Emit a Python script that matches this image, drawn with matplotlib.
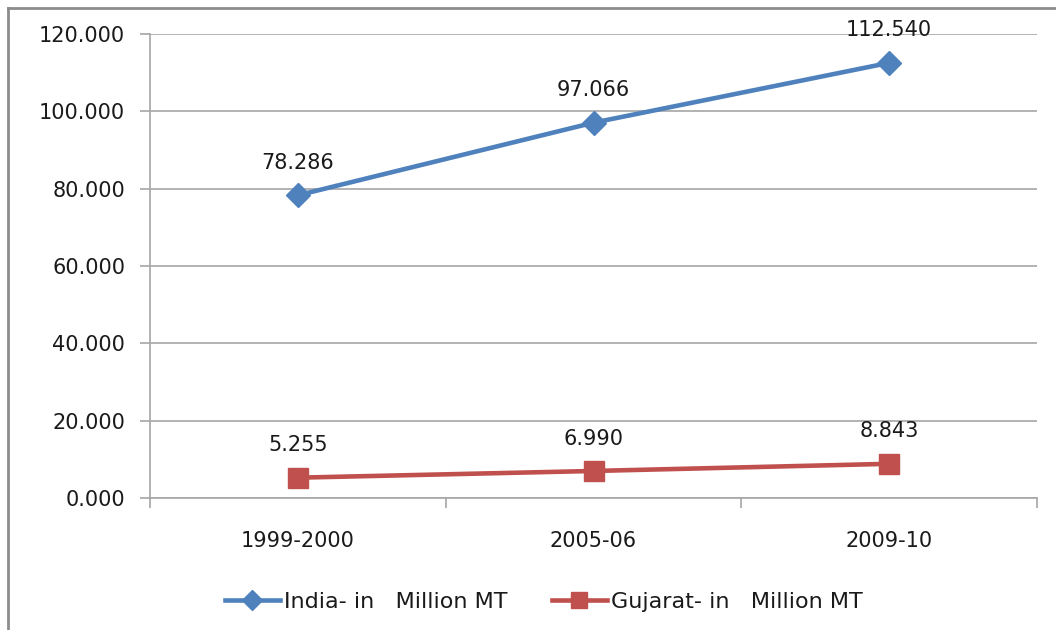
import matplotlib
matplotlib.use("Agg")
import matplotlib.pyplot as plt
from matplotlib.lines import Line2D

categories = ["1999-2000", "2005-06", "2009-10"]
india = [78.286, 97.066, 112.540]
gujarat = [5.255, 6.990, 8.843]
series_names = ["India- in   Million MT", "Gujarat- in   Million MT"]
yticks = [0, 20, 40, 60, 80, 100, 120]

plt.rcParams['font.family'] = ['DejaVu Sans']

W, H = 1056, 630
fig = plt.figure(figsize=(W / 100, H / 100), dpi=100)
ax = fig.add_axes([150 / W, 1 - 498 / H, (1037 - 150) / W, (498 - 34) / H])

blue = "#4F81BD"
red = "#C0504D"
txt = "#1a1a1a"
x = list(range(len(categories)))

ax.plot(x, india, color=blue, lw=3.3, marker="D", ms=12, mec=blue, mfc=blue, zorder=3)
ax.plot(x, gujarat, color=red, lw=3.3, marker="s", ms=14, mec=red, mfc=red, zorder=3)

for xi, v in zip(x, india):
    ax.annotate(f"{v:.3f}", (xi, v), xytext=(0, 19), textcoords="offset points",
                ha="center", va="baseline", fontsize=15, color=txt)
for xi, v in zip(x, gujarat):
    ax.annotate(f"{v:.3f}", (xi, v), xytext=(0, 19), textcoords="offset points",
                ha="center", va="baseline", fontsize=15, color=txt)

ax.set_xlim(-0.5, len(categories) - 0.5)
ax.set_ylim(0, 120)
ax.set_yticks(yticks)
ax.set_yticklabels([f"{v:.3f}" for v in yticks], fontsize=15, color=txt)
ax.yaxis.grid(True, color="#A6A6A6", lw=1.2)
ax.set_axisbelow(True)

ax.set_xticks(x)
ax.set_xticklabels(categories, fontsize=15, color=txt)
ax.tick_params(axis="x", length=0, pad=24)
ax.set_xticks([i - 0.5 for i in range(len(categories) + 1)], minor=True)
ax.tick_params(axis="x", which="minor", length=7, width=1.2, color="#A6A6A6", direction="out")
ax.tick_params(axis="y", length=7, width=1.2, color="#A6A6A6", direction="out", pad=11)

for s in ["top", "right"]:
    ax.spines[s].set_visible(False)
for s in ["left", "bottom"]:
    ax.spines[s].set_color("#A6A6A6")
    ax.spines[s].set_linewidth(1.2)

# figure border (left and top visible)
fig.add_artist(Line2D([8 / W, 8 / W], [0, 1 - 8 / H], transform=fig.transFigure,
                      color="#8C8C8C", lw=2))
fig.add_artist(Line2D([8 / W, 1], [1 - 8 / H, 1 - 8 / H], transform=fig.transFigure,
                      color="#8C8C8C", lw=2))

handles = [
    Line2D([], [], color=blue, lw=3.3, marker="D", ms=10),
    Line2D([], [], color=red, lw=3.3, marker="s", ms=11),
]
fig.legend(handles, series_names, loc="center", bbox_to_anchor=(544 / W, 1 - 602 / H),
           ncol=2, frameon=False, fontsize=16, handlelength=2.45, handletextpad=0.2,
           columnspacing=2.0, labelcolor=txt)

fig.savefig("out.png", dpi=100)
